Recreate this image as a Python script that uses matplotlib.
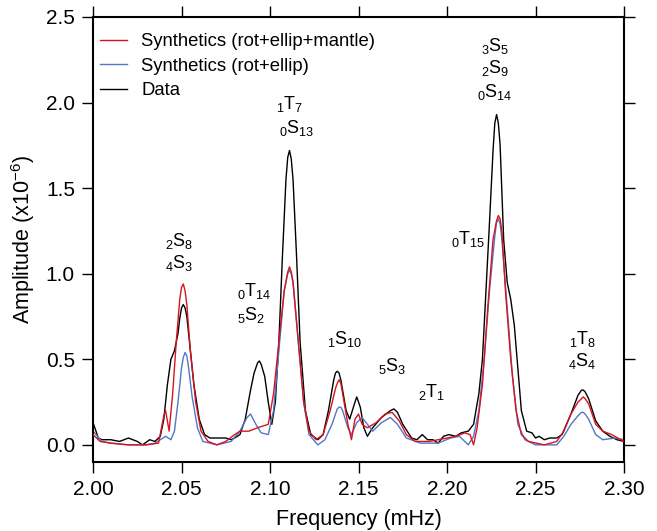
import numpy as np
import matplotlib.pyplot as plt

plt.rcParams['font.family'] = ['Liberation Sans', 'DejaVu Sans']
plt.rcParams['mathtext.fontset'] = 'custom'
plt.rcParams['mathtext.rm'] = 'Liberation Sans'
plt.rcParams['mathtext.it'] = 'Liberation Sans'

# Data (Amplitude x1e-6 vs frequency in mHz)
freq_data = [2.000, 2.003, 2.005, 2.010, 2.015, 2.020, 2.025, 2.028, 2.032, 2.035, 2.038,
             2.040, 2.042, 2.044, 2.046, 2.048, 2.049, 2.050, 2.051, 2.052, 2.053, 2.055, 2.057, 2.060,
             2.063, 2.066, 2.070, 2.075, 2.078, 2.080, 2.083, 2.086, 2.089, 2.091, 2.093, 2.094,
             2.095, 2.097, 2.099, 2.101, 2.103, 2.105, 2.107, 2.109, 2.110, 2.111, 2.112, 2.113, 2.115, 2.117,
             2.120, 2.123, 2.127, 2.130, 2.133, 2.136, 2.137, 2.138, 2.139, 2.140, 2.143, 2.145, 2.148,
             2.149, 2.151, 2.153, 2.155, 2.158, 2.163, 2.168, 2.170, 2.172, 2.175, 2.180, 2.183,
             2.186, 2.189, 2.192, 2.195, 2.198, 2.201, 2.205, 2.208, 2.212, 2.215, 2.218,
             2.220, 2.222, 2.224, 2.226, 2.227, 2.228, 2.229, 2.230, 2.232, 2.234, 2.236, 2.238, 2.240,
             2.242, 2.245, 2.248, 2.250, 2.252, 2.255, 2.258, 2.262, 2.265, 2.270, 2.274,
             2.276, 2.277, 2.278, 2.280, 2.284, 2.288, 2.292, 2.296, 2.300]
amp_data = [0.13, 0.04, 0.03, 0.03, 0.02, 0.04, 0.02, 0.00, 0.03, 0.02, 0.05,
            0.15, 0.35, 0.50, 0.55, 0.65, 0.74, 0.80, 0.82, 0.80, 0.75, 0.55, 0.35, 0.15,
            0.06, 0.04, 0.04, 0.04, 0.03, 0.04, 0.06, 0.15, 0.32, 0.42, 0.48, 0.49,
            0.47, 0.40, 0.25, 0.12, 0.25, 0.60, 1.10, 1.55, 1.68, 1.72, 1.67, 1.55, 1.10, 0.60,
            0.20, 0.06, 0.03, 0.06, 0.20, 0.38, 0.42, 0.43, 0.42, 0.38, 0.20, 0.15, 0.25,
            0.28, 0.22, 0.10, 0.05, 0.10, 0.16, 0.20, 0.21, 0.19, 0.12, 0.04, 0.03,
            0.06, 0.03, 0.03, 0.01, 0.05, 0.06, 0.05, 0.07, 0.08, 0.12, 0.30,
            0.50, 0.90, 1.30, 1.72, 1.88, 1.93, 1.88, 1.75, 1.20, 0.95, 0.85, 0.70, 0.45,
            0.20, 0.08, 0.07, 0.04, 0.05, 0.03, 0.04, 0.04, 0.06, 0.18, 0.29,
            0.32, 0.32, 0.31, 0.27, 0.14, 0.08, 0.05, 0.03, 0.02]

freq_mantle = [2.000, 2.004, 2.010, 2.020, 2.030, 2.037, 2.040, 2.041, 2.043, 2.045, 2.047,
               2.049, 2.050, 2.051, 2.052, 2.053, 2.055, 2.058, 2.061, 2.065, 2.070, 2.075, 2.080, 2.083,
               2.088, 2.093, 2.099, 2.102, 2.105, 2.108, 2.110, 2.111, 2.112, 2.113, 2.116, 2.119, 2.122,
               2.126, 2.130, 2.134, 2.137, 2.138, 2.139, 2.140, 2.141, 2.144, 2.146, 2.148, 2.150, 2.152,
               2.155, 2.160, 2.165, 2.169, 2.173, 2.177, 2.182, 2.190, 2.195, 2.200, 2.205,
               2.210, 2.213, 2.215, 2.217, 2.220, 2.223, 2.226, 2.228, 2.229, 2.230, 2.231, 2.233, 2.236,
               2.239, 2.242, 2.246, 2.255, 2.262, 2.266, 2.270, 2.274, 2.276, 2.277, 2.278, 2.280, 2.284,
               2.288, 2.293, 2.300]
amp_mantle = [0.06, 0.02, 0.01, 0.00, 0.00, 0.01, 0.17, 0.20, 0.08, 0.30, 0.60,
              0.85, 0.92, 0.94, 0.90, 0.82, 0.55, 0.25, 0.08, 0.02, 0.00, 0.02, 0.06, 0.08,
              0.08, 0.10, 0.12, 0.30, 0.60, 0.90, 1.01, 1.04, 1.01, 0.95, 0.60, 0.25, 0.08,
              0.03, 0.06, 0.20, 0.33, 0.36, 0.38, 0.36, 0.30, 0.12, 0.03, 0.15, 0.18, 0.12,
              0.10, 0.13, 0.18, 0.19, 0.14, 0.06, 0.02, 0.02, 0.03, 0.04, 0.05,
              0.07, 0.06, 0.00, 0.10, 0.35, 0.80, 1.20, 1.31, 1.34, 1.32, 1.25, 0.90, 0.50,
              0.20, 0.06, 0.02, 0.00, 0.02, 0.08, 0.18, 0.25, 0.27, 0.28, 0.27, 0.24, 0.12,
              0.08, 0.06, 0.02]

freq_rot = [2.000, 2.005, 2.010, 2.020, 2.030, 2.035, 2.038, 2.041, 2.044, 2.046, 2.048,
            2.050, 2.051, 2.052, 2.053, 2.054, 2.056, 2.059, 2.062, 2.070, 2.078, 2.083, 2.087, 2.089,
            2.092, 2.095, 2.099, 2.102, 2.105, 2.108, 2.110, 2.111, 2.112, 2.113, 2.116, 2.119, 2.122,
            2.127, 2.131, 2.135, 2.138, 2.139, 2.140, 2.141, 2.144, 2.146, 2.149, 2.152, 2.155, 2.158,
            2.163, 2.168, 2.172, 2.177, 2.185, 2.195, 2.202, 2.207, 2.212, 2.215, 2.218,
            2.221, 2.224, 2.227, 2.228, 2.229, 2.230, 2.231, 2.234, 2.237, 2.240, 2.244, 2.250, 2.262,
            2.266, 2.270, 2.274, 2.276, 2.277, 2.278, 2.280, 2.284, 2.288, 2.295, 2.300]
amp_rot = [0.08, 0.02, 0.01, 0.00, 0.00, 0.01, 0.03, 0.05, 0.03, 0.08, 0.25,
           0.45, 0.51, 0.54, 0.52, 0.45, 0.28, 0.10, 0.02, 0.00, 0.02, 0.08, 0.16, 0.18,
           0.12, 0.07, 0.06, 0.20, 0.55, 0.90, 1.00, 1.02, 1.00, 0.95, 0.60, 0.25, 0.06,
           0.00, 0.03, 0.12, 0.21, 0.22, 0.22, 0.20, 0.10, 0.06, 0.13, 0.16, 0.12, 0.08,
           0.13, 0.16, 0.12, 0.04, 0.01, 0.01, 0.04, 0.05, 0.00, 0.05, 0.20,
           0.50, 0.90, 1.22, 1.30, 1.32, 1.29, 1.20, 0.80, 0.40, 0.12, 0.03, 0.00, 0.00,
           0.05, 0.12, 0.17, 0.19, 0.19, 0.18, 0.15, 0.06, 0.03, 0.04, 0.03]

# mode labels: (text, x, y)
mode_labels = [
    (r"$_2$S$_8$", 2.0487, 1.19), (r"$_4$S$_3$", 2.0487, 1.06),
    (r"$_0$T$_{14}$", 2.0912, 0.90), (r"$_5$S$_2$", 2.0895, 0.76),
    (r"$_1$T$_7$", 2.1110, 1.99), (r"$_0$S$_{13}$", 2.1150, 1.85),
    (r"$_1$S$_{10}$", 2.1422, 0.62),
    (r"$_5$S$_3$", 2.1690, 0.46),
    (r"$_2$T$_1$", 2.1915, 0.31),
    (r"$_3$S$_5$", 2.2272, 2.33), (r"$_2$S$_9$", 2.2272, 2.20), (r"$_0$S$_{14}$", 2.2272, 2.06),
    (r"$_0$T$_{15}$", 2.2119, 1.20),
    (r"$_1$T$_8$", 2.2765, 0.62), (r"$_4$S$_4$", 2.2765, 0.49),
]

fig = plt.figure(figsize=(6.57, 5.31), dpi=100)
ax = fig.add_axes([0.1416, 0.130, 0.8082, 0.838])

ax.plot(freq_mantle, amp_mantle, color="#d7141e", lw=1.0, label="Synthetics (rot+ellip+mantle)", zorder=3)
ax.plot(freq_rot, amp_rot, color="#4f78c8", lw=1.0, label="Synthetics (rot+ellip)", zorder=2)
ax.plot(freq_data, amp_data, color="black", lw=1.0, label="Data", zorder=1)

for txt, x, y in mode_labels:
    ax.text(x, y, txt, ha="center", va="center", fontsize=13)

ax.set_xlim(2.0, 2.3)
ax.set_ylim(-0.1, 2.5)
ax.set_xticks([2.00, 2.05, 2.10, 2.15, 2.20, 2.25, 2.30])
ax.set_yticks([0.0, 0.5, 1.0, 1.5, 2.0, 2.5])
ax.set_xticklabels(["2.00", "2.05", "2.10", "2.15", "2.20", "2.25", "2.30"])
ax.set_yticklabels(["0.0", "0.5", "1.0", "1.5", "2.0", "2.5"])
ax.tick_params(direction="out", length=8, width=1, labelsize=15,
               top=True, right=True, pad=5)
for s in ax.spines.values():
    s.set_linewidth(1.5)

ax.set_xlabel("Frequency (mHz)", fontsize=15.5, labelpad=7)
ax.set_ylabel(r"Amplitude (x10$^{-6}$)", fontsize=15.5, labelpad=6)

ax.legend(loc="upper left", bbox_to_anchor=(-0.005, 0.984), frameon=False,
          fontsize=13.3, handlelength=1.5, handletextpad=0.75, labelspacing=0.4,
          borderaxespad=0.3, borderpad=0.2)

fig.savefig("out.png", dpi=100)
